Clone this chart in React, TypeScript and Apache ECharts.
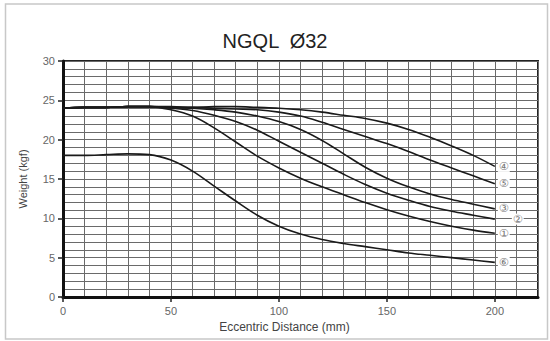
import React, { useEffect, useRef } from "react";
import * as echarts from "echarts";

const distances = [0, 10, 20, 30, 40, 50, 60, 70, 80, 90, 100, 110, 120, 130, 140, 150, 160, 170, 180, 190, 200];
const curve4 = [24.0, 24.1, 24.1, 24.2, 24.2, 24.2, 24.1, 24.2, 24.2, 24.1, 24.0, 23.8, 23.5, 23.1, 22.7, 22.1, 21.3, 20.3, 19.2, 18.0, 16.6];
const curve5 = [24.0, 24.1, 24.1, 24.2, 24.2, 24.1, 24.1, 24.0, 23.9, 23.8, 23.5, 23.0, 22.2, 21.3, 20.4, 19.5, 18.5, 17.4, 16.4, 15.4, 14.4];
const curve3 = [24.0, 24.1, 24.1, 24.2, 24.2, 24.1, 24.0, 23.8, 23.5, 23.0, 22.3, 21.3, 19.9, 18.2, 16.5, 15.1, 14.0, 13.1, 12.4, 11.8, 11.2];
const curve2 = [24.0, 24.1, 24.1, 24.2, 24.2, 24.0, 23.7, 23.1, 22.3, 21.2, 19.8, 18.4, 17.0, 15.6, 14.3, 13.2, 12.3, 11.5, 10.9, 10.4, 9.9];
const curve1 = [24.0, 24.1, 24.1, 24.2, 24.2, 23.8, 23.0, 21.5, 19.7, 17.9, 16.4, 15.1, 14.0, 13.0, 12.0, 11.1, 10.3, 9.6, 9.0, 8.5, 8.1];
const curve6 = [18.0, 18.0, 18.1, 18.2, 18.1, 17.4, 16.0, 14.1, 12.2, 10.4, 9.0, 8.0, 7.3, 6.8, 6.4, 6.0, 5.6, 5.3, 5.0, 4.7, 4.4];

const curveNames = ["④", "⑤", "③", "②", "①", "⑥"];
const curveValues = [curve4, curve5, curve3, curve2, curve1, curve6];
const labelTicksX = [0, 50, 100, 150, 200];
const labelTicksY = [0, 5, 10, 15, 20, 25, 30];

const FONT = "Liberation Sans";

export default function App() {
  const ref = useRef<HTMLDivElement>(null);
  useEffect(() => {
    document.body.style.margin = "0";
    const chart = echarts.init(ref.current!, null, { renderer: "svg" });
    const series = curveNames.map((name, i) => ({
      name,
      type: "line",
      smooth: 0.35,
      symbol: "none",
      xAxisIndex: 0,
      yAxisIndex: 0,
      data: distances.map((d, j) => [d, curveValues[i][j]]),
      lineStyle: { color: "#1a1a1a", width: 1.6 },
      z: 5,
      endLabel: {
        show: true,
        formatter: name,
        color: "#777",
        fontSize: 11,
        fontFamily: "DejaVu Sans",
        distance: 3,
        offset: name === "②" ? [14, 0] : [0, 0],
        backgroundColor: "#fff",
        padding: [0, 1],
      },
    }));
    const gridLine = { show: true, lineStyle: { color: "#6a6a6a", width: 1 } };
    chart.setOption({
      animation: false,
      backgroundColor: "#fff",
      title: {
        text: "NGQL  Ø32",
        left: "center",
        top: 26,
        textStyle: { fontSize: 20, fontWeight: "normal", color: "#222", fontFamily: FONT },
      },
      graphic: [
        {
          type: "rect",
          shape: { x: 5.5, y: 4, width: 542, height: 335 },
          style: { fill: "none", stroke: "#c8c8c8", lineWidth: 1.5 },
          silent: true,
        },
      ],
      grid: {
        left: 63,
        top: 61,
        right: 12,
        bottom: 44,
        show: true,
        borderColor: "#222",
        borderWidth: 2,
        backgroundColor: "transparent",
      },
      xAxis: [
        {
          type: "value",
          min: 0,
          max: 220,
          interval: 10,
          position: "bottom",
          axisLine: { show: false },
          axisTick: { show: false },
          axisLabel: { show: false },
          splitLine: gridLine,
        },
        {
          type: "value",
          min: 0,
          max: 220,
          position: "bottom",
          name: "Eccentric Distance (mm)",
          nameLocation: "middle",
          nameGap: 24,
          nameTextStyle: { fontSize: 12, color: "#444", fontFamily: FONT, padding: [0, 32, 0, 0] },
          axisLine: { show: true, onZero: false, lineStyle: { color: "#111", width: 3 } },
          axisTick: { show: true, customValues: labelTicksX, length: 5, lineStyle: { color: "#222", width: 1.5 } },
          axisLabel: { customValues: labelTicksX, color: "#666", fontSize: 11, fontFamily: FONT, margin: 8 },
          splitLine: { show: false },
        },
      ],
      yAxis: [
        {
          type: "value",
          min: 0,
          max: 30,
          interval: 1,
          position: "left",
          axisLine: { show: false },
          axisTick: { show: false },
          axisLabel: { show: false },
          splitLine: gridLine,
        },
        {
          type: "value",
          min: 0,
          max: 30,
          position: "left",
          name: "Weight (kgf)",
          nameLocation: "middle",
          nameGap: 35,
          nameTextStyle: { fontSize: 11, color: "#444", fontFamily: FONT },
          axisLine: { show: true, onZero: false, lineStyle: { color: "#111", width: 3 } },
          axisTick: { show: true, customValues: labelTicksY, length: 5, lineStyle: { color: "#222", width: 1.5 } },
          axisLabel: { customValues: labelTicksY, color: "#666", fontSize: 11, fontFamily: FONT, margin: 8 },
          splitLine: { show: false },
        },
      ],
      series,
    });
    return () => chart.dispose();
  }, []);
  return <div ref={ref} style={{ position: "fixed", left: 0, top: 0, width: 550, height: 341 }} />;
}
